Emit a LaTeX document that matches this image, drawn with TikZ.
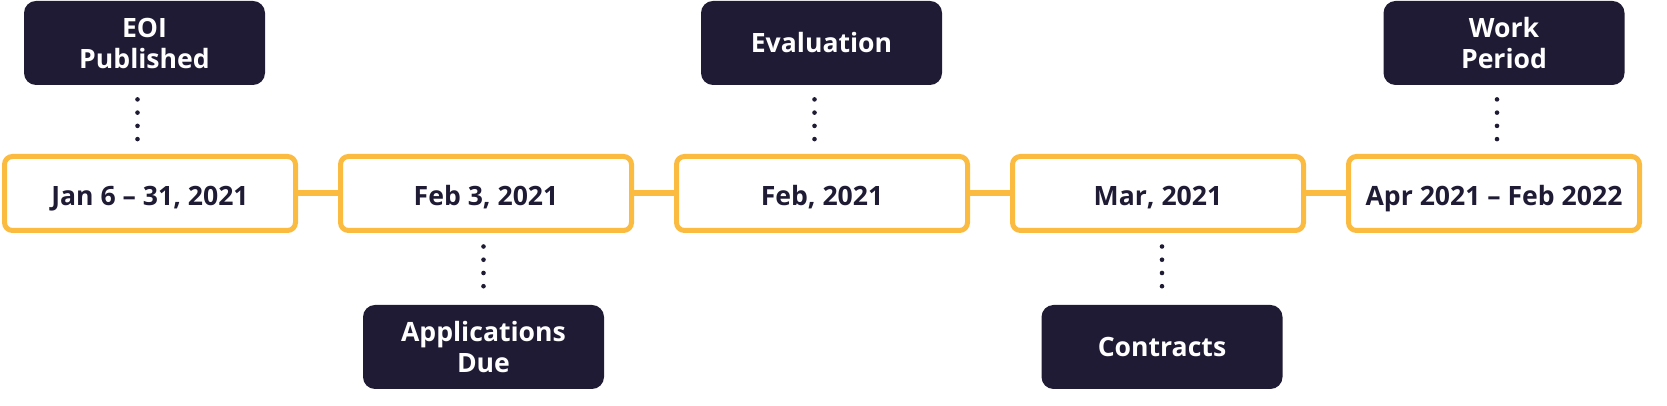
\documentclass[tikz,border=0pt]{standalone}
\usepackage{fontspec}
\setmainfont{Open Sans}
\definecolor{navy}{RGB}{31,27,52}
\definecolor{gold}{RGB}{251,187,64}
\begin{document}
\begin{tikzpicture}[x=0.5pt,y=0.5pt,
    date/.style={draw=gold,line width=2.5pt,rounded corners=4pt,fill=white,text=navy,
        minimum width=145.5pt,minimum height=37pt,inner sep=0pt,text height=11.6pt,text depth=0pt,
        font=\bfseries\fontsize{13.3}{15.5}\selectfont},
    event/.style={fill=navy,text=white,rounded corners=6pt,align=center,
        minimum width=120.5pt,minimum height=42pt,inner sep=0pt,
        font=\bfseries\fontsize{13.3}{15.5}\selectfont},
    dots/.style={navy,line width=2.3pt,line cap=round,dash pattern=on 0pt off 6.62pt}]
\useasboundingbox (0,0) rectangle (1667,406);

% timeline
\foreach \i/\t in {1/{Jan 6 -- 31, 2021},2/{Feb 3, 2021},3/{Feb, 2021},
        4/{Mar, 2021},5/{Apr 2021 -- Feb 2022}}
    \node[date] (d\i) at ({150+336*(\i-1)},212.5) {\t};
\foreach \i [evaluate=\i as \j using int(\i+1)] in {1,...,4}
    \draw[gold,line width=3pt] (d\i.east)--(d\j.west);

% events
\node[event] (eoi) at (144.5,363) {EOI\\Published};
\node[event] (eval) at (821.5,363) {Evaluation};
\node[event] (work) at (1504,363) {Work\\Period};
\node[event] (apps) at (483.5,59) {Applications\\Due};
\node[event] (contr) at (1162,59) {Contracts};

\foreach \e/\d in {eoi/d1,eval/d3,work/d5}
    \draw[dots,shorten <=7pt,shorten >=2.75pt] ([xshift=-3.5pt]\e.south)--([xshift=-3.5pt]\e.south |- \d.north);
\foreach \e/\d in {apps/d2,contr/d4}
    \draw[dots,shorten <=6.75pt,shorten >=4pt] (\e.north |- \d.south)--(\e.north);
\end{tikzpicture}
\end{document}
